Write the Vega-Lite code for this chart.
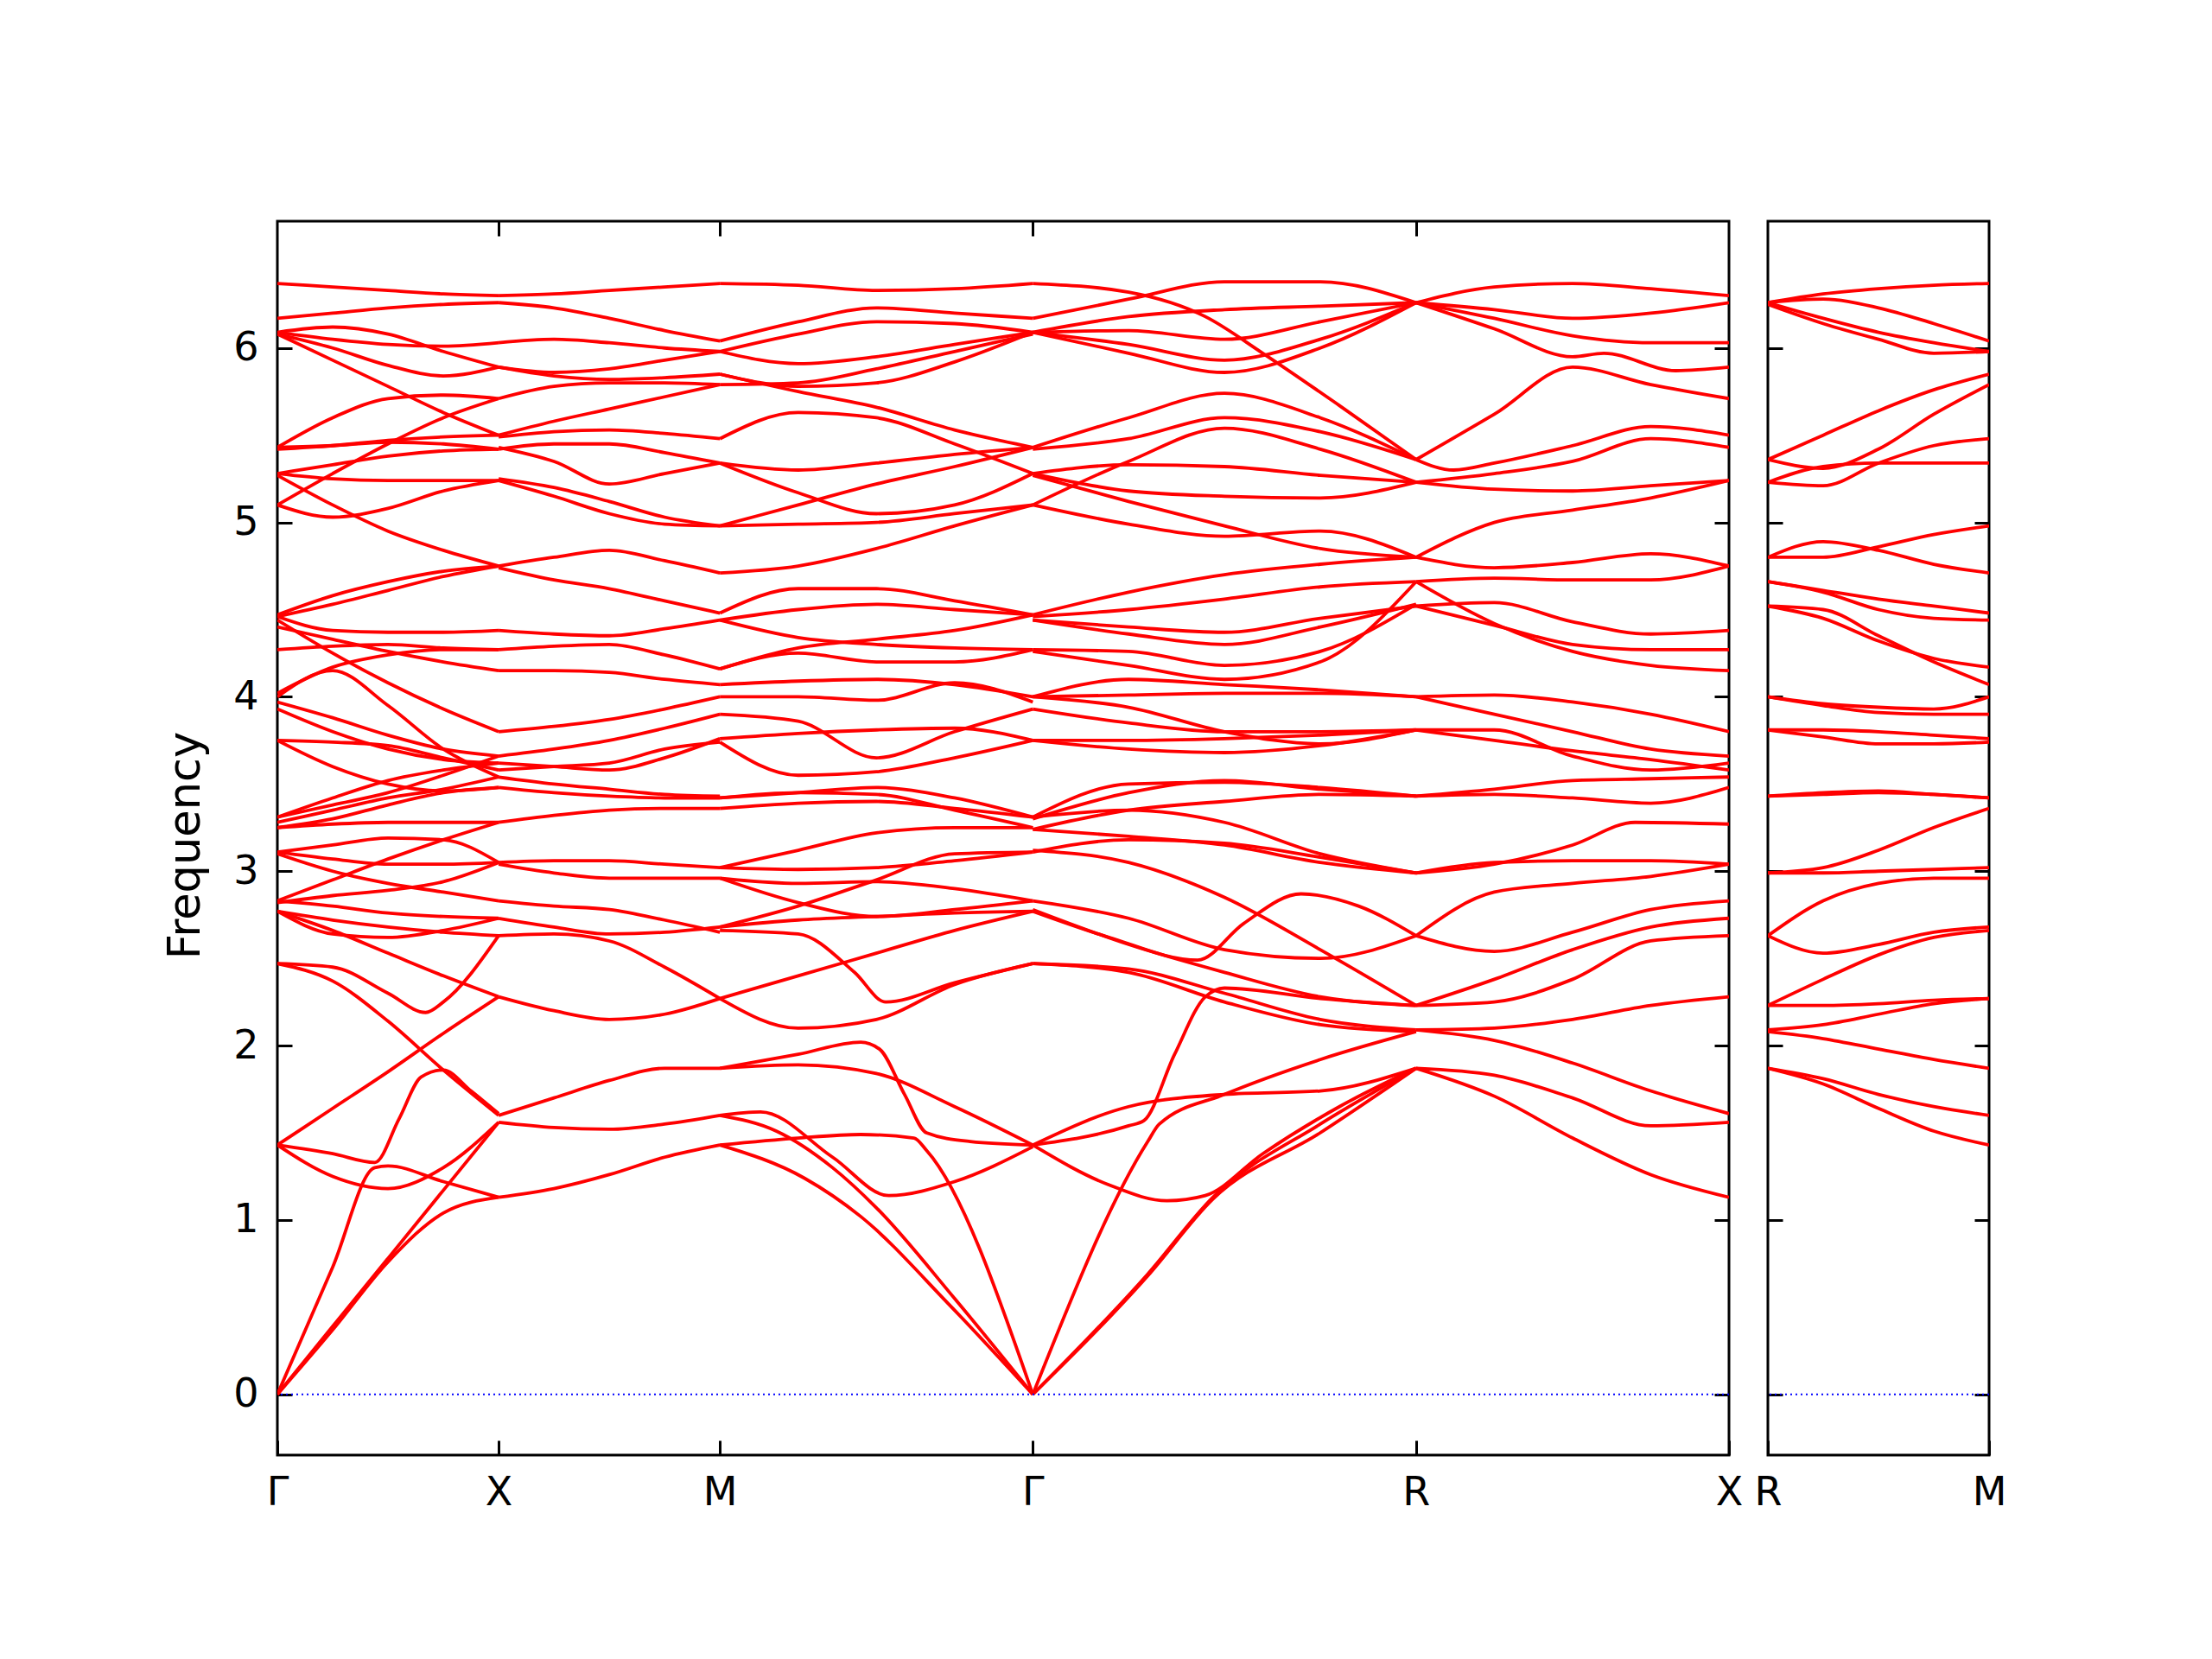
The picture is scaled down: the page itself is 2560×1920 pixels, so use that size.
{
"$schema": "https://vega.github.io/schema/vega-lite/v6.json",
"background": "white",
"padding": {"left": 187, "top": 253, "right": 20, "bottom": 20},
"bounds": "flush",
"spacing": 45,
"config": {"font": "DejaVu Sans", "view": {"stroke": "black", "strokeWidth": 3}},
"datasets": {
"L": [
{"c":"a1","x":0,"f":6.37},{"c":"a1","x":0.125,"f":6.35},{"c":"a1","x":0.25,"f":6.33},{"c":"a1","x":0.375,"f":6.31},{"c":"a1","x":0.5,"f":6.30},
{"c":"a2","x":0,"f":6.17},{"c":"a2","x":0.125,"f":6.20},{"c":"a2","x":0.25,"f":6.23},{"c":"a2","x":0.375,"f":6.25},{"c":"a2","x":0.5,"f":6.26},
{"c":"a3","x":0,"f":6.09},{"c":"a3","x":0.125,"f":6.12},{"c":"a3","x":0.25,"f":6.08},{"c":"a3","x":0.375,"f":5.98},{"c":"a3","x":0.5,"f":5.89},
{"c":"a4","x":0,"f":6.09},{"c":"a4","x":0.125,"f":6.05},{"c":"a4","x":0.25,"f":6.02},{"c":"a4","x":0.375,"f":6.01},{"c":"a4","x":0.5,"f":6.03},
{"c":"a5","x":0,"f":6.08},{"c":"a5","x":0.125,"f":6.00},{"c":"a5","x":0.25,"f":5.90},{"c":"a5","x":0.375,"f":5.84},{"c":"a5","x":0.5,"f":5.89},
{"c":"a6","x":0,"f":6.08},{"c":"a6","x":0.125,"f":5.93},{"c":"a6","x":0.25,"f":5.78},{"c":"a6","x":0.375,"f":5.63},{"c":"a6","x":0.5,"f":5.50},
{"c":"a7","x":0,"f":5.43},{"c":"a7","x":0.125,"f":5.60},{"c":"a7","x":0.25,"f":5.71},{"c":"a7","x":0.375,"f":5.73},{"c":"a7","x":0.5,"f":5.71},
{"c":"a8","x":0,"f":5.43},{"c":"a8","x":0.125,"f":5.44},{"c":"a8","x":0.25,"f":5.46},{"c":"a8","x":0.375,"f":5.45},{"c":"a8","x":0.5,"f":5.42},
{"c":"a9","x":0,"f":5.42},{"c":"a9","x":0.125,"f":5.44},{"c":"a9","x":0.25,"f":5.47},{"c":"a9","x":0.375,"f":5.49},{"c":"a9","x":0.5,"f":5.50},
{"c":"a10","x":0,"f":5.10},{"c":"a10","x":0.125,"f":5.28},{"c":"a10","x":0.25,"f":5.45},{"c":"a10","x":0.375,"f":5.60},{"c":"a10","x":0.5,"f":5.71},
{"c":"a11","x":0,"f":5.28},{"c":"a11","x":0.125,"f":5.33},{"c":"a11","x":0.25,"f":5.38},{"c":"a11","x":0.375,"f":5.41},{"c":"a11","x":0.5,"f":5.42},
{"c":"a12","x":0,"f":5.28},{"c":"a12","x":0.125,"f":5.25},{"c":"a12","x":0.25,"f":5.24},{"c":"a12","x":0.375,"f":5.24},{"c":"a12","x":0.5,"f":5.24},
{"c":"a13","x":0,"f":5.27},{"c":"a13","x":0.125,"f":5.10},{"c":"a13","x":0.25,"f":4.95},{"c":"a13","x":0.375,"f":4.84},{"c":"a13","x":0.5,"f":4.75},
{"c":"a14","x":0,"f":5.10},{"c":"a14","x":0.125,"f":5.03},{"c":"a14","x":0.25,"f":5.08},{"c":"a14","x":0.375,"f":5.18},{"c":"a14","x":0.5,"f":5.24},
{"c":"a15","x":0,"f":4.47},{"c":"a15","x":0.125,"f":4.58},{"c":"a15","x":0.25,"f":4.66},{"c":"a15","x":0.375,"f":4.72},{"c":"a15","x":0.5,"f":4.75},
{"c":"a16","x":0,"f":4.46},{"c":"a16","x":0.125,"f":4.53},{"c":"a16","x":0.25,"f":4.61},{"c":"a16","x":0.375,"f":4.69},{"c":"a16","x":0.5,"f":4.75},
{"c":"a17","x":0,"f":4.46},{"c":"a17","x":0.125,"f":4.38},{"c":"a17","x":0.25,"f":4.37},{"c":"a17","x":0.375,"f":4.37},{"c":"a17","x":0.5,"f":4.38},
{"c":"a18","x":0,"f":4.44},{"c":"a18","x":0.125,"f":4.25},{"c":"a18","x":0.25,"f":4.08},{"c":"a18","x":0.375,"f":3.93},{"c":"a18","x":0.5,"f":3.80},
{"c":"a19","x":0,"f":4.40},{"c":"a19","x":0.125,"f":4.33},{"c":"a19","x":0.25,"f":4.26},{"c":"a19","x":0.375,"f":4.20},{"c":"a19","x":0.5,"f":4.15},
{"c":"a20","x":0,"f":4.27},{"c":"a20","x":0.125,"f":4.29},{"c":"a20","x":0.25,"f":4.30},{"c":"a20","x":0.375,"f":4.28},{"c":"a20","x":0.5,"f":4.27},
{"c":"a21","x":0,"f":4.02},{"c":"a21","x":0.125,"f":4.17},{"c":"a21","x":0.25,"f":4.24},{"c":"a21","x":0.375,"f":4.27},{"c":"a21","x":0.5,"f":4.27},
{"c":"a22","x":0,"f":4.00},{"c":"a22","x":0.125,"f":4.15},{"c":"a22","x":0.25,"f":3.95},{"c":"a22","x":0.375,"f":3.70},{"c":"a22","x":0.5,"f":3.54},
{"c":"a23","x":0,"f":3.97},{"c":"a23","x":0.125,"f":3.88},{"c":"a23","x":0.25,"f":3.78},{"c":"a23","x":0.375,"f":3.70},{"c":"a23","x":0.5,"f":3.66},
{"c":"a24","x":0,"f":3.93},{"c":"a24","x":0.125,"f":3.80},{"c":"a24","x":0.25,"f":3.70},{"c":"a24","x":0.375,"f":3.64},{"c":"a24","x":0.5,"f":3.62},
{"c":"a25","x":0,"f":3.75},{"c":"a25","x":0.125,"f":3.74},{"c":"a25","x":0.25,"f":3.72},{"c":"a25","x":0.375,"f":3.65},{"c":"a25","x":0.5,"f":3.58},
{"c":"a26","x":0,"f":3.75},{"c":"a26","x":0.125,"f":3.60},{"c":"a26","x":0.25,"f":3.50},{"c":"a26","x":0.375,"f":3.46},{"c":"a26","x":0.5,"f":3.48},
{"c":"a27","x":0,"f":3.31},{"c":"a27","x":0.125,"f":3.42},{"c":"a27","x":0.25,"f":3.52},{"c":"a27","x":0.375,"f":3.58},{"c":"a27","x":0.5,"f":3.62},
{"c":"a28","x":0,"f":3.31},{"c":"a28","x":0.125,"f":3.38},{"c":"a28","x":0.25,"f":3.45},{"c":"a28","x":0.375,"f":3.55},{"c":"a28","x":0.5,"f":3.66},
{"c":"a29","x":0,"f":3.28},{"c":"a29","x":0.125,"f":3.35},{"c":"a29","x":0.25,"f":3.42},{"c":"a29","x":0.375,"f":3.47},{"c":"a29","x":0.5,"f":3.54},
{"c":"a30","x":0,"f":3.25},{"c":"a30","x":0.125,"f":3.27},{"c":"a30","x":0.25,"f":3.28},{"c":"a30","x":0.375,"f":3.28},{"c":"a30","x":0.5,"f":3.28},
{"c":"a31","x":0,"f":3.25},{"c":"a31","x":0.125,"f":3.30},{"c":"a31","x":0.25,"f":3.38},{"c":"a31","x":0.375,"f":3.45},{"c":"a31","x":0.5,"f":3.48},
{"c":"a32","x":0,"f":3.11},{"c":"a32","x":0.125,"f":3.15},{"c":"a32","x":0.25,"f":3.19},{"c":"a32","x":0.375,"f":3.18},{"c":"a32","x":0.5,"f":3.05},
{"c":"a33","x":0,"f":3.11},{"c":"a33","x":0.125,"f":3.07},{"c":"a33","x":0.25,"f":3.04},{"c":"a33","x":0.375,"f":3.04},{"c":"a33","x":0.5,"f":3.05},
{"c":"a34","x":0,"f":3.10},{"c":"a34","x":0.125,"f":3.00},{"c":"a34","x":0.25,"f":2.93},{"c":"a34","x":0.375,"f":2.88},{"c":"a34","x":0.5,"f":2.83},
{"c":"a35","x":0,"f":2.83},{"c":"a35","x":0.125,"f":2.95},{"c":"a35","x":0.25,"f":3.07},{"c":"a35","x":0.375,"f":3.18},{"c":"a35","x":0.5,"f":3.28},
{"c":"a36","x":0,"f":2.82},{"c":"a36","x":0.125,"f":2.86},{"c":"a36","x":0.25,"f":2.89},{"c":"a36","x":0.375,"f":2.94},{"c":"a36","x":0.5,"f":3.05},
{"c":"a37","x":0,"f":2.77},{"c":"a37","x":0.125,"f":2.64},{"c":"a37","x":0.25,"f":2.62},{"c":"a37","x":0.375,"f":2.66},{"c":"a37","x":0.5,"f":2.73},
{"c":"a38","x":0,"f":2.77},{"c":"a38","x":0.125,"f":2.72},{"c":"a38","x":0.25,"f":2.68},{"c":"a38","x":0.375,"f":2.65},{"c":"a38","x":0.5,"f":2.63},
{"c":"a39","x":0,"f":2.77},{"c":"a39","x":0.125,"f":2.66},{"c":"a39","x":0.25,"f":2.53},{"c":"a39","x":0.375,"f":2.40},{"c":"a39","x":0.5,"f":2.28},
{"c":"a40","x":0,"f":2.83},{"c":"a40","x":0.125,"f":2.80},{"c":"a40","x":0.25,"f":2.76},{"c":"a40","x":0.375,"f":2.74},{"c":"a40","x":0.5,"f":2.73},
{"c":"a41","x":0,"f":2.47},{"c":"a41","x":0.125,"f":2.45},{"c":"a41","x":0.25,"f":2.30},{"c":"a41","x":0.335,"f":2.19},{"c":"a41","x":0.375,"f":2.25},{"c":"a41","x":0.5,"f":2.63},
{"c":"a42","x":0,"f":2.47},{"c":"a42","x":0.125,"f":2.37},{"c":"a42","x":0.25,"f":2.14},{"c":"a42","x":0.375,"f":1.86},{"c":"a42","x":0.5,"f":1.60},
{"c":"a43","x":0,"f":1.43},{"c":"a43","x":0.125,"f":1.64},{"c":"a43","x":0.25,"f":1.85},{"c":"a43","x":0.375,"f":2.07},{"c":"a43","x":0.5,"f":2.28},
{"c":"a44","x":0,"f":1.43},{"c":"a44","x":0.125,"f":1.38},{"c":"a44","x":0.22,"f":1.33},{"c":"a44","x":0.275,"f":1.58},{"c":"a44","x":0.325,"f":1.82},{"c":"a44","x":0.375,"f":1.86},{"c":"a44","x":0.4375,"f":1.74},{"c":"a44","x":0.5,"f":1.61},
{"c":"a45","x":0,"f":1.43},{"c":"a45","x":0.125,"f":1.25},{"c":"a45","x":0.25,"f":1.18},{"c":"a45","x":0.375,"f":1.30},{"c":"a45","x":0.5,"f":1.56},
{"c":"a46","x":0,"f":0},{"c":"a46","x":0.125,"f":0.73},{"c":"a46","x":0.22,"f":1.30},{"c":"a46","x":0.25,"f":1.31},{"c":"a46","x":0.375,"f":1.22},{"c":"a46","x":0.5,"f":1.13},
{"c":"a47","x":0,"f":0},{"c":"a47","x":0.125,"f":0.39},{"c":"a47","x":0.25,"f":0.78},{"c":"a47","x":0.375,"f":1.17},{"c":"a47","x":0.5,"f":1.56},
{"c":"a48","x":0,"f":0},{"c":"a48","x":0.125,"f":0.37},{"c":"a48","x":0.25,"f":0.76},{"c":"a48","x":0.375,"f":1.04},{"c":"a48","x":0.5,"f":1.13},
{"c":"b1","x":0.5,"f":6.30},{"c":"b1","x":0.625,"f":6.31},{"c":"b1","x":0.75,"f":6.33},{"c":"b1","x":0.875,"f":6.35},{"c":"b1","x":1,"f":6.37},
{"c":"b2","x":0.5,"f":6.26},{"c":"b2","x":0.625,"f":6.23},{"c":"b2","x":0.75,"f":6.17},{"c":"b2","x":0.875,"f":6.10},{"c":"b2","x":1,"f":6.04},
{"c":"b3","x":0.5,"f":6.03},{"c":"b3","x":0.625,"f":6.05},{"c":"b3","x":0.75,"f":6.03},{"c":"b3","x":0.875,"f":6.00},{"c":"b3","x":1,"f":5.98},
{"c":"b4","x":0.5,"f":5.89},{"c":"b4","x":0.625,"f":5.86},{"c":"b4","x":0.75,"f":5.88},{"c":"b4","x":0.875,"f":5.93},{"c":"b4","x":1,"f":5.98},
{"c":"b5","x":0.5,"f":5.89},{"c":"b5","x":0.625,"f":5.84},{"c":"b5","x":0.75,"f":5.82},{"c":"b5","x":0.875,"f":5.83},{"c":"b5","x":1,"f":5.85},
{"c":"b6","x":0.5,"f":5.71},{"c":"b6","x":0.625,"f":5.78},{"c":"b6","x":0.75,"f":5.80},{"c":"b6","x":0.875,"f":5.80},{"c":"b6","x":1,"f":5.79},
{"c":"b7","x":0.5,"f":5.50},{"c":"b7","x":0.625,"f":5.58},{"c":"b7","x":0.75,"f":5.65},{"c":"b7","x":0.875,"f":5.72},{"c":"b7","x":1,"f":5.79},
{"c":"b8","x":0.5,"f":5.49},{"c":"b8","x":0.625,"f":5.52},{"c":"b8","x":0.75,"f":5.53},{"c":"b8","x":0.875,"f":5.51},{"c":"b8","x":1,"f":5.48},
{"c":"b9","x":0.5,"f":5.43},{"c":"b9","x":0.625,"f":5.35},{"c":"b9","x":0.75,"f":5.22},{"c":"b9","x":0.875,"f":5.28},{"c":"b9","x":1,"f":5.34},
{"c":"b10","x":0.5,"f":5.42},{"c":"b10","x":0.625,"f":5.45},{"c":"b10","x":0.75,"f":5.45},{"c":"b10","x":0.875,"f":5.40},{"c":"b10","x":1,"f":5.34},
{"c":"b11","x":0.5,"f":5.25},{"c":"b11","x":0.625,"f":5.20},{"c":"b11","x":0.75,"f":5.12},{"c":"b11","x":0.875,"f":5.03},{"c":"b11","x":1,"f":4.98},
{"c":"b12","x":0.5,"f":5.24},{"c":"b12","x":0.625,"f":5.15},{"c":"b12","x":0.75,"f":5.05},{"c":"b12","x":0.875,"f":4.99},{"c":"b12","x":1,"f":4.98},
{"c":"b13","x":0.5,"f":4.75},{"c":"b13","x":0.625,"f":4.80},{"c":"b13","x":0.75,"f":4.84},{"c":"b13","x":0.875,"f":4.78},{"c":"b13","x":1,"f":4.71},
{"c":"b14","x":0.5,"f":4.74},{"c":"b14","x":0.625,"f":4.67},{"c":"b14","x":0.75,"f":4.62},{"c":"b14","x":0.875,"f":4.55},{"c":"b14","x":1,"f":4.48},
{"c":"b15","x":0.5,"f":4.38},{"c":"b15","x":0.625,"f":4.36},{"c":"b15","x":0.75,"f":4.35},{"c":"b15","x":0.875,"f":4.39},{"c":"b15","x":1,"f":4.44},
{"c":"b16","x":0.5,"f":4.27},{"c":"b16","x":0.625,"f":4.29},{"c":"b16","x":0.75,"f":4.30},{"c":"b16","x":0.875,"f":4.24},{"c":"b16","x":1,"f":4.16},
{"c":"b17","x":0.5,"f":4.15},{"c":"b17","x":0.625,"f":4.15},{"c":"b17","x":0.75,"f":4.14},{"c":"b17","x":0.875,"f":4.10},{"c":"b17","x":1,"f":4.07},
{"c":"b18","x":0.5,"f":3.80},{"c":"b18","x":0.625,"f":3.83},{"c":"b18","x":0.75,"f":3.87},{"c":"b18","x":0.875,"f":3.93},{"c":"b18","x":1,"f":4.00},
{"c":"b19","x":0.5,"f":3.66},{"c":"b19","x":0.625,"f":3.70},{"c":"b19","x":0.75,"f":3.75},{"c":"b19","x":0.875,"f":3.82},{"c":"b19","x":1,"f":3.90},
{"c":"b20","x":0.5,"f":3.62},{"c":"b20","x":0.625,"f":3.60},{"c":"b20","x":0.75,"f":3.58},{"c":"b20","x":0.875,"f":3.65},{"c":"b20","x":1,"f":3.76},
{"c":"b21","x":0.5,"f":3.58},{"c":"b21","x":0.625,"f":3.60},{"c":"b21","x":0.75,"f":3.62},{"c":"b21","x":0.875,"f":3.70},{"c":"b21","x":1,"f":3.74},
{"c":"b22","x":0.5,"f":3.54},{"c":"b22","x":0.625,"f":3.50},{"c":"b22","x":0.75,"f":3.47},{"c":"b22","x":0.875,"f":3.44},{"c":"b22","x":1,"f":3.43},
{"c":"b23","x":0.5,"f":3.48},{"c":"b23","x":0.625,"f":3.45},{"c":"b23","x":0.75,"f":3.43},{"c":"b23","x":0.875,"f":3.42},{"c":"b23","x":1,"f":3.42},
{"c":"b24","x":0.5,"f":3.28},{"c":"b24","x":0.625,"f":3.32},{"c":"b24","x":0.75,"f":3.35},{"c":"b24","x":0.875,"f":3.36},{"c":"b24","x":1,"f":3.36},
{"c":"b25","x":0.5,"f":3.05},{"c":"b25","x":0.625,"f":3.06},{"c":"b25","x":0.75,"f":3.06},{"c":"b25","x":0.875,"f":3.04},{"c":"b25","x":1,"f":3.02},
{"c":"b26","x":0.5,"f":3.04},{"c":"b26","x":0.625,"f":2.99},{"c":"b26","x":0.75,"f":2.96},{"c":"b26","x":0.875,"f":2.96},{"c":"b26","x":1,"f":2.96},
{"c":"b27","x":0.5,"f":2.83},{"c":"b27","x":0.625,"f":2.80},{"c":"b27","x":0.75,"f":2.78},{"c":"b27","x":0.875,"f":2.72},{"c":"b27","x":1,"f":2.65},
{"c":"b28","x":0.5,"f":2.73},{"c":"b28","x":0.625,"f":2.68},{"c":"b28","x":0.75,"f":2.64},{"c":"b28","x":0.875,"f":2.65},{"c":"b28","x":1,"f":2.68},
{"c":"b29","x":0.5,"f":2.63},{"c":"b29","x":0.625,"f":2.64},{"c":"b29","x":0.75,"f":2.60},{"c":"b29","x":0.875,"f":2.45},{"c":"b29","x":1,"f":2.27},
{"c":"b30","x":0.5,"f":2.28},{"c":"b30","x":0.625,"f":2.20},{"c":"b30","x":0.75,"f":2.15},{"c":"b30","x":0.875,"f":2.18},{"c":"b30","x":1,"f":2.27},
{"c":"b31","x":0.5,"f":1.60},{"c":"b31","x":0.625,"f":1.70},{"c":"b31","x":0.75,"f":1.80},{"c":"b31","x":0.875,"f":1.87},{"c":"b31","x":1,"f":1.87},
{"c":"b32","x":0.5,"f":1.56},{"c":"b32","x":0.625,"f":1.53},{"c":"b32","x":0.75,"f":1.52},{"c":"b32","x":0.875,"f":1.55},{"c":"b32","x":1,"f":1.60},
{"c":"b33","x":0.5,"f":1.13},{"c":"b33","x":0.625,"f":1.18},{"c":"b33","x":0.75,"f":1.26},{"c":"b33","x":0.875,"f":1.36},{"c":"b33","x":1,"f":1.43},
{"c":"c1","x":1,"f":6.37},{"c":"c1","x":1.1768,"f":6.36},{"c":"c1","x":1.3536,"f":6.33},{"c":"c1","x":1.5303,"f":6.34},{"c":"c1","x":1.7071,"f":6.37},
{"c":"c2","x":1,"f":6.04},{"c":"c2","x":1.1768,"f":6.15},{"c":"c2","x":1.3536,"f":6.23},{"c":"c2","x":1.5303,"f":6.20},{"c":"c2","x":1.7071,"f":6.17},
{"c":"c3","x":1,"f":5.98},{"c":"c3","x":1.1768,"f":6.08},{"c":"c3","x":1.3536,"f":6.15},{"c":"c3","x":1.5303,"f":6.14},{"c":"c3","x":1.7071,"f":6.09},
{"c":"c4","x":1,"f":5.98},{"c":"c4","x":1.1768,"f":5.91},{"c":"c4","x":1.3536,"f":5.95},{"c":"c4","x":1.5303,"f":6.02},{"c":"c4","x":1.7071,"f":6.09},
{"c":"c5","x":1,"f":5.85},{"c":"c5","x":1.1768,"f":5.78},{"c":"c5","x":1.3536,"f":5.80},{"c":"c5","x":1.5303,"f":5.92},{"c":"c5","x":1.7071,"f":6.09},
{"c":"c6","x":1,"f":5.79},{"c":"c6","x":1.1768,"f":5.80},{"c":"c6","x":1.3536,"f":5.88},{"c":"c6","x":1.5303,"f":5.98},{"c":"c6","x":1.7071,"f":6.08},
{"c":"c7","x":1,"f":5.85},{"c":"c7","x":1.1768,"f":5.75},{"c":"c7","x":1.3536,"f":5.66},{"c":"c7","x":1.5303,"f":5.53},{"c":"c7","x":1.7071,"f":5.43},
{"c":"c8","x":1,"f":5.48},{"c":"c8","x":1.1768,"f":5.63},{"c":"c8","x":1.3536,"f":5.60},{"c":"c8","x":1.5303,"f":5.45},{"c":"c8","x":1.7071,"f":5.28},
{"c":"c9","x":1,"f":5.34},{"c":"c9","x":1.1768,"f":5.30},{"c":"c9","x":1.3536,"f":5.34},{"c":"c9","x":1.5303,"f":5.39},{"c":"c9","x":1.7071,"f":5.43},
{"c":"c10","x":1,"f":5.34},{"c":"c10","x":1.1768,"f":5.17},{"c":"c10","x":1.3536,"f":5.05},{"c":"c10","x":1.5303,"f":5.10},{"c":"c10","x":1.7071,"f":5.28},
{"c":"c11","x":1,"f":4.98},{"c":"c11","x":1.1768,"f":4.99},{"c":"c11","x":1.3536,"f":5.00},{"c":"c11","x":1.5303,"f":5.05},{"c":"c11","x":1.7071,"f":5.10},
{"c":"c12","x":1,"f":4.98},{"c":"c12","x":1.1768,"f":5.10},{"c":"c12","x":1.3536,"f":5.22},{"c":"c12","x":1.5303,"f":5.32},{"c":"c12","x":1.7071,"f":5.43},
{"c":"c13","x":1,"f":4.71},{"c":"c13","x":1.1768,"f":4.75},{"c":"c13","x":1.3536,"f":4.85},{"c":"c13","x":1.5303,"f":4.98},{"c":"c13","x":1.7071,"f":5.10},
{"c":"c14","x":1,"f":4.48},{"c":"c14","x":1.1768,"f":4.62},{"c":"c14","x":1.3536,"f":4.62},{"c":"c14","x":1.5303,"f":4.55},{"c":"c14","x":1.7071,"f":4.47},
{"c":"c15","x":1,"f":4.44},{"c":"c15","x":1.1768,"f":4.50},{"c":"c15","x":1.3536,"f":4.53},{"c":"c15","x":1.5303,"f":4.50},{"c":"c15","x":1.7071,"f":4.47},
{"c":"c16","x":1,"f":4.44},{"c":"c16","x":1.1768,"f":4.34},{"c":"c16","x":1.3536,"f":4.30},{"c":"c16","x":1.5303,"f":4.28},{"c":"c16","x":1.7071,"f":4.27},
{"c":"c17","x":1,"f":4.16},{"c":"c17","x":1.1768,"f":4.28},{"c":"c17","x":1.3536,"f":4.33},{"c":"c17","x":1.5303,"f":4.38},{"c":"c17","x":1.7071,"f":4.47},
{"c":"c18","x":1,"f":4.16},{"c":"c18","x":1.1768,"f":4.25},{"c":"c18","x":1.3536,"f":4.20},{"c":"c18","x":1.5303,"f":4.20},{"c":"c18","x":1.7071,"f":4.27},
{"c":"c19","x":1,"f":4.07},{"c":"c19","x":1.1768,"f":4.09},{"c":"c19","x":1.3536,"f":4.10},{"c":"c19","x":1.5303,"f":4.07},{"c":"c19","x":1.7071,"f":4.00},
{"c":"c20","x":1,"f":4.00},{"c":"c20","x":1.1768,"f":4.00},{"c":"c20","x":1.3536,"f":3.98},{"c":"c20","x":1.5303,"f":4.08},{"c":"c20","x":1.7071,"f":3.97},
{"c":"c21","x":1,"f":3.90},{"c":"c21","x":1.1768,"f":3.86},{"c":"c21","x":1.3536,"f":3.65},{"c":"c21","x":1.5303,"f":3.80},{"c":"c21","x":1.7071,"f":3.93},
{"c":"c22","x":1,"f":3.76},{"c":"c22","x":1.1768,"f":3.79},{"c":"c22","x":1.3536,"f":3.81},{"c":"c22","x":1.5303,"f":3.82},{"c":"c22","x":1.7071,"f":3.75},
{"c":"c23","x":1,"f":3.74},{"c":"c23","x":1.1768,"f":3.55},{"c":"c23","x":1.3536,"f":3.57},{"c":"c23","x":1.5303,"f":3.65},{"c":"c23","x":1.7071,"f":3.75},
{"c":"c24","x":1,"f":3.42},{"c":"c24","x":1.1768,"f":3.45},{"c":"c24","x":1.3536,"f":3.48},{"c":"c24","x":1.5303,"f":3.42},{"c":"c24","x":1.7071,"f":3.31},
{"c":"c25","x":1,"f":3.42},{"c":"c25","x":1.1768,"f":3.45},{"c":"c25","x":1.3536,"f":3.44},{"c":"c25","x":1.5303,"f":3.35},{"c":"c25","x":1.7071,"f":3.25},
{"c":"c26","x":1,"f":3.36},{"c":"c26","x":1.1768,"f":3.39},{"c":"c26","x":1.3536,"f":3.40},{"c":"c26","x":1.5303,"f":3.36},{"c":"c26","x":1.7071,"f":3.31},
{"c":"c27","x":1,"f":3.02},{"c":"c27","x":1.1768,"f":3.12},{"c":"c27","x":1.3536,"f":3.22},{"c":"c27","x":1.5303,"f":3.25},{"c":"c27","x":1.7071,"f":3.25},
{"c":"c28","x":1,"f":3.02},{"c":"c28","x":1.1768,"f":3.01},{"c":"c28","x":1.3536,"f":3.02},{"c":"c28","x":1.5303,"f":3.06},{"c":"c28","x":1.7071,"f":3.11},
{"c":"c29","x":1,"f":2.96},{"c":"c29","x":1.1768,"f":2.93},{"c":"c29","x":1.3536,"f":2.94},{"c":"c29","x":1.5303,"f":2.90},{"c":"c29","x":1.7071,"f":2.83},
{"c":"c30","x":1,"f":2.96},{"c":"c30","x":1.1768,"f":2.82},{"c":"c30","x":1.3536,"f":2.74},{"c":"c30","x":1.5303,"f":2.78},{"c":"c30","x":1.7071,"f":2.83},
{"c":"c31","x":1,"f":2.68},{"c":"c31","x":1.1768,"f":2.80},{"c":"c31","x":1.3536,"f":2.95},{"c":"c31","x":1.5303,"f":3.10},{"c":"c31","x":1.7071,"f":3.11},
{"c":"c32","x":1,"f":2.68},{"c":"c32","x":1.1768,"f":2.72},{"c":"c32","x":1.3536,"f":2.74},{"c":"c32","x":1.5303,"f":2.76},{"c":"c32","x":1.7071,"f":2.77},
{"c":"c33","x":1,"f":2.66},{"c":"c33","x":1.1768,"f":2.64},{"c":"c33","x":1.3041,"f":2.42},{"c":"c33","x":1.3748,"f":2.25},{"c":"c33","x":1.5303,"f":2.36},{"c":"c33","x":1.7071,"f":2.47},
{"c":"c34","x":1,"f":2.27},{"c":"c34","x":1.1768,"f":2.40},{"c":"c34","x":1.3536,"f":2.53},{"c":"c34","x":1.5303,"f":2.66},{"c":"c34","x":1.7071,"f":2.77},
{"c":"c35","x":1,"f":2.27},{"c":"c35","x":1.1768,"f":2.10},{"c":"c35","x":1.3536,"f":2.15},{"c":"c35","x":1.5303,"f":2.35},{"c":"c35","x":1.7071,"f":2.47},
{"c":"c36","x":1,"f":1.87},{"c":"c36","x":1.1768,"f":1.89},{"c":"c36","x":1.3536,"f":1.84},{"c":"c36","x":1.5303,"f":1.65},{"c":"c36","x":1.7071,"f":1.43},
{"c":"c37","x":1,"f":1.87},{"c":"c37","x":1.1768,"f":1.95},{"c":"c37","x":1.3182,"f":2.02},{"c":"c37","x":1.3606,"f":1.98},{"c":"c37","x":1.4172,"f":1.72},{"c":"c37","x":1.4667,"f":1.50},{"c":"c37","x":1.5657,"f":1.45},{"c":"c37","x":1.7071,"f":1.43},
{"c":"c38","x":1,"f":1.60},{"c":"c38","x":1.0919,"f":1.62},{"c":"c38","x":1.2546,"f":1.36},{"c":"c38","x":1.3818,"f":1.14},{"c":"c38","x":1.5303,"f":1.22},{"c":"c38","x":1.7071,"f":1.42},
{"c":"c39","x":1,"f":1.43},{"c":"c39","x":1.1768,"f":1.47},{"c":"c39","x":1.3182,"f":1.49},{"c":"c39","x":1.4384,"f":1.47},{"c":"c39","x":1.4667,"f":1.40},{"c":"c39","x":1.7071,"f":0},
{"c":"c40","x":1,"f":1.60},{"c":"c40","x":1.1273,"f":1.51},{"c":"c40","x":1.2546,"f":1.30},{"c":"c40","x":1.3536,"f":1.07},{"c":"c40","x":1.5303,"f":0.55},{"c":"c40","x":1.7071,"f":0},
{"c":"c41","x":1,"f":1.43},{"c":"c41","x":1.1909,"f":1.24},{"c":"c41","x":1.3182,"f":1.02},{"c":"c41","x":1.5162,"f":0.52},{"c":"c41","x":1.7071,"f":0},
{"c":"d1","x":1.7071,"f":6.17},{"c":"d1","x":1.9236,"f":6.28},{"c":"d1","x":2.1401,"f":6.38},{"c":"d1","x":2.3566,"f":6.38},{"c":"d1","x":2.5731,"f":6.26},
{"c":"d2","x":1.7071,"f":6.37},{"c":"d2","x":1.9236,"f":6.32},{"c":"d2","x":2.0968,"f":6.18},{"c":"d2","x":2.2267,"f":5.97},{"c":"d2","x":2.3999,"f":5.67},{"c":"d2","x":2.5731,"f":5.36},
{"c":"d3","x":1.7071,"f":6.09},{"c":"d3","x":1.9236,"f":6.18},{"c":"d3","x":2.1401,"f":6.22},{"c":"d3","x":2.3566,"f":6.24},{"c":"d3","x":2.5731,"f":6.26},
{"c":"d4","x":1.7071,"f":6.09},{"c":"d4","x":1.9236,"f":6.10},{"c":"d4","x":2.1401,"f":6.05},{"c":"d4","x":2.3566,"f":6.15},{"c":"d4","x":2.5731,"f":6.26},
{"c":"d5","x":1.7071,"f":6.09},{"c":"d5","x":1.9236,"f":5.97},{"c":"d5","x":2.1401,"f":5.86},{"c":"d5","x":2.3566,"f":6.00},{"c":"d5","x":2.5731,"f":6.26},
{"c":"d6","x":1.7071,"f":6.09},{"c":"d6","x":1.9236,"f":6.02},{"c":"d6","x":2.1401,"f":5.93},{"c":"d6","x":2.3566,"f":6.05},{"c":"d6","x":2.5731,"f":6.26},
{"c":"d7","x":1.7071,"f":5.43},{"c":"d7","x":1.9236,"f":5.60},{"c":"d7","x":2.1401,"f":5.74},{"c":"d7","x":2.3566,"f":5.60},{"c":"d7","x":2.5731,"f":5.36},
{"c":"d8","x":1.7071,"f":5.42},{"c":"d8","x":1.9236,"f":5.48},{"c":"d8","x":2.1401,"f":5.60},{"c":"d8","x":2.3566,"f":5.52},{"c":"d8","x":2.5731,"f":5.36},
{"c":"d9","x":1.7071,"f":5.10},{"c":"d9","x":1.9236,"f":5.35},{"c":"d9","x":2.1401,"f":5.54},{"c":"d9","x":2.3566,"f":5.42},{"c":"d9","x":2.5731,"f":5.23},
{"c":"d10","x":1.7071,"f":5.28},{"c":"d10","x":1.9236,"f":5.33},{"c":"d10","x":2.1401,"f":5.32},{"c":"d10","x":2.3566,"f":5.27},{"c":"d10","x":2.5731,"f":5.23},
{"c":"d11","x":1.7071,"f":5.28},{"c":"d11","x":1.9236,"f":5.18},{"c":"d11","x":2.1401,"f":5.15},{"c":"d11","x":2.3566,"f":5.14},{"c":"d11","x":2.5731,"f":5.23},
{"c":"d12","x":1.7071,"f":5.10},{"c":"d12","x":1.9236,"f":4.99},{"c":"d12","x":2.1401,"f":4.92},{"c":"d12","x":2.3566,"f":4.95},{"c":"d12","x":2.5731,"f":4.80},
{"c":"d13","x":1.7071,"f":5.27},{"c":"d13","x":1.9236,"f":5.12},{"c":"d13","x":2.1401,"f":4.98},{"c":"d13","x":2.3566,"f":4.85},{"c":"d13","x":2.5731,"f":4.80},
{"c":"d14","x":1.7071,"f":4.47},{"c":"d14","x":1.9236,"f":4.60},{"c":"d14","x":2.1401,"f":4.70},{"c":"d14","x":2.3566,"f":4.76},{"c":"d14","x":2.5731,"f":4.80},
{"c":"d15","x":1.7071,"f":4.46},{"c":"d15","x":1.9236,"f":4.50},{"c":"d15","x":2.1401,"f":4.56},{"c":"d15","x":2.3566,"f":4.63},{"c":"d15","x":2.5731,"f":4.66},
{"c":"d16","x":1.7071,"f":4.44},{"c":"d16","x":1.9236,"f":4.36},{"c":"d16","x":2.1401,"f":4.30},{"c":"d16","x":2.3566,"f":4.40},{"c":"d16","x":2.5731,"f":4.53},
{"c":"d17","x":1.7071,"f":4.44},{"c":"d17","x":1.9236,"f":4.40},{"c":"d17","x":2.1401,"f":4.37},{"c":"d17","x":2.3566,"f":4.45},{"c":"d17","x":2.5731,"f":4.52},
{"c":"d18","x":1.7071,"f":4.27},{"c":"d18","x":1.9236,"f":4.26},{"c":"d18","x":2.1401,"f":4.18},{"c":"d18","x":2.3566,"f":4.26},{"c":"d18","x":2.5731,"f":4.53},
{"c":"d19","x":1.7071,"f":4.26},{"c":"d19","x":1.9236,"f":4.18},{"c":"d19","x":2.1401,"f":4.10},{"c":"d19","x":2.3566,"f":4.20},{"c":"d19","x":2.5731,"f":4.66},
{"c":"d20","x":1.7071,"f":4.00},{"c":"d20","x":1.9236,"f":4.10},{"c":"d20","x":2.1401,"f":4.07},{"c":"d20","x":2.3566,"f":4.04},{"c":"d20","x":2.5731,"f":4.00},
{"c":"d21","x":1.7071,"f":4.00},{"c":"d21","x":1.9236,"f":4.01},{"c":"d21","x":2.1401,"f":4.02},{"c":"d21","x":2.3566,"f":4.02},{"c":"d21","x":2.5731,"f":4.00},
{"c":"d22","x":1.7071,"f":4.00},{"c":"d22","x":1.9236,"f":3.94},{"c":"d22","x":2.1401,"f":3.80},{"c":"d22","x":2.3566,"f":3.73},{"c":"d22","x":2.5731,"f":3.81},
{"c":"d23","x":1.7071,"f":3.93},{"c":"d23","x":1.9236,"f":3.85},{"c":"d23","x":2.1401,"f":3.80},{"c":"d23","x":2.3566,"f":3.80},{"c":"d23","x":2.5731,"f":3.81},
{"c":"d24","x":1.7071,"f":3.75},{"c":"d24","x":1.9236,"f":3.70},{"c":"d24","x":2.1401,"f":3.68},{"c":"d24","x":2.3566,"f":3.72},{"c":"d24","x":2.5731,"f":3.81},
{"c":"d25","x":1.7071,"f":3.75},{"c":"d25","x":1.9236,"f":3.75},{"c":"d25","x":2.1401,"f":3.76},{"c":"d25","x":2.3566,"f":3.78},{"c":"d25","x":2.5731,"f":3.81},
{"c":"d26","x":1.7071,"f":3.31},{"c":"d26","x":1.9236,"f":3.50},{"c":"d26","x":2.1401,"f":3.51},{"c":"d26","x":2.3566,"f":3.48},{"c":"d26","x":2.5731,"f":3.43},
{"c":"d27","x":1.7071,"f":3.30},{"c":"d27","x":1.9236,"f":3.45},{"c":"d27","x":2.1401,"f":3.52},{"c":"d27","x":2.3566,"f":3.47},{"c":"d27","x":2.5731,"f":3.43},
{"c":"d28","x":1.7071,"f":3.24},{"c":"d28","x":1.9236,"f":3.35},{"c":"d28","x":2.1401,"f":3.40},{"c":"d28","x":2.3566,"f":3.44},{"c":"d28","x":2.5731,"f":3.43},
{"c":"d29","x":1.7071,"f":3.31},{"c":"d29","x":1.9236,"f":3.35},{"c":"d29","x":2.1401,"f":3.28},{"c":"d29","x":2.3566,"f":3.10},{"c":"d29","x":2.5731,"f":2.99},
{"c":"d30","x":1.7071,"f":3.24},{"c":"d30","x":1.9236,"f":3.20},{"c":"d30","x":2.1401,"f":3.15},{"c":"d30","x":2.3566,"f":3.05},{"c":"d30","x":2.5731,"f":2.99},
{"c":"d31","x":1.7071,"f":3.11},{"c":"d31","x":1.9236,"f":3.18},{"c":"d31","x":2.1401,"f":3.16},{"c":"d31","x":2.3566,"f":3.08},{"c":"d31","x":2.5731,"f":2.99},
{"c":"d32","x":1.7071,"f":3.12},{"c":"d32","x":1.9236,"f":3.05},{"c":"d32","x":2.1401,"f":2.85},{"c":"d32","x":2.3566,"f":2.55},{"c":"d32","x":2.5731,"f":2.23},
{"c":"d33","x":1.7071,"f":2.83},{"c":"d33","x":1.9236,"f":2.73},{"c":"d33","x":2.1401,"f":2.55},{"c":"d33","x":2.3566,"f":2.50},{"c":"d33","x":2.5731,"f":2.63},
{"c":"d34","x":1.7071,"f":2.78},{"c":"d34","x":1.9236,"f":2.58},{"c":"d34","x":2.1401,"f":2.42},{"c":"d34","x":2.3566,"f":2.28},{"c":"d34","x":2.5731,"f":2.23},
{"c":"d35","x":1.7071,"f":2.77},{"c":"d35","x":1.8803,"f":2.62},{"c":"d35","x":2.0795,"f":2.49},{"c":"d35","x":2.1834,"f":2.70},{"c":"d35","x":2.3133,"f":2.87},{"c":"d35","x":2.4432,"f":2.80},{"c":"d35","x":2.5731,"f":2.63},
{"c":"d36","x":1.7071,"f":2.47},{"c":"d36","x":1.9236,"f":2.42},{"c":"d36","x":2.1401,"f":2.25},{"c":"d36","x":2.3566,"f":2.12},{"c":"d36","x":2.5731,"f":2.08},
{"c":"d37","x":1.7071,"f":2.47},{"c":"d37","x":1.9236,"f":2.44},{"c":"d37","x":2.1401,"f":2.30},{"c":"d37","x":2.3566,"f":2.15},{"c":"d37","x":2.5731,"f":2.09},
{"c":"d38","x":1.7071,"f":0},{"c":"d38","x":1.9669,"f":1.45},{"c":"d38","x":1.9929,"f":1.55},{"c":"d38","x":2.1401,"f":1.72},{"c":"d38","x":2.3566,"f":1.92},{"c":"d38","x":2.5731,"f":2.08},
{"c":"d39","x":1.7071,"f":1.43},{"c":"d39","x":1.9236,"f":1.54},{"c":"d39","x":1.9582,"f":1.57},{"c":"d39","x":2.0275,"f":1.95},{"c":"d39","x":2.0968,"f":2.28},{"c":"d39","x":2.1401,"f":2.33},{"c":"d39","x":2.3566,"f":2.27},{"c":"d39","x":2.5731,"f":2.23},
{"c":"d40","x":1.7071,"f":1.43},{"c":"d40","x":1.9236,"f":1.65},{"c":"d40","x":2.1401,"f":1.72},{"c":"d40","x":2.3566,"f":1.74},{"c":"d40","x":2.5731,"f":1.87},
{"c":"d41","x":1.7071,"f":1.43},{"c":"d41","x":1.8803,"f":1.20},{"c":"d41","x":2.0102,"f":1.11},{"c":"d41","x":2.0968,"f":1.14},{"c":"d41","x":2.2267,"f":1.38},{"c":"d41","x":2.3999,"f":1.65},{"c":"d41","x":2.5731,"f":1.87},
{"c":"d42","x":1.7071,"f":0},{"c":"d42","x":1.9669,"f":0.69},{"c":"d42","x":2.1141,"f":1.13},{"c":"d42","x":2.3566,"f":1.55},{"c":"d42","x":2.5731,"f":1.87},
{"c":"d43","x":1.7071,"f":0},{"c":"d43","x":1.9669,"f":0.68},{"c":"d43","x":2.1141,"f":1.12},{"c":"d43","x":2.3566,"f":1.50},{"c":"d43","x":2.5731,"f":1.87},
{"c":"e1","x":2.5731,"f":6.26},{"c":"e1","x":2.7499,"f":6.35},{"c":"e1","x":2.9267,"f":6.37},{"c":"e1","x":3.1034,"f":6.34},{"c":"e1","x":3.2802,"f":6.30},
{"c":"e2","x":2.5731,"f":6.26},{"c":"e2","x":2.7499,"f":6.22},{"c":"e2","x":2.9267,"f":6.17},{"c":"e2","x":3.1034,"f":6.20},{"c":"e2","x":3.2802,"f":6.26},
{"c":"e3","x":2.5731,"f":6.26},{"c":"e3","x":2.7499,"f":6.17},{"c":"e3","x":2.9267,"f":6.07},{"c":"e3","x":3.1034,"f":6.03},{"c":"e3","x":3.2802,"f":6.03},
{"c":"e4","x":2.5731,"f":6.26},{"c":"e4","x":2.7499,"f":6.11},{"c":"e4","x":2.9267,"f":5.95},{"c":"e4","x":2.9974,"f":5.97},{"c":"e4","x":3.16,"f":5.87},{"c":"e4","x":3.2802,"f":5.89},
{"c":"e5","x":2.5731,"f":5.36},{"c":"e5","x":2.7499,"f":5.62},{"c":"e5","x":2.9267,"f":5.89},{"c":"e5","x":3.1034,"f":5.79},{"c":"e5","x":3.2802,"f":5.71},
{"c":"e6","x":2.5731,"f":5.36},{"c":"e6","x":2.658,"f":5.30},{"c":"e6","x":2.7499,"f":5.34},{"c":"e6","x":2.9267,"f":5.44},{"c":"e6","x":3.1034,"f":5.55},{"c":"e6","x":3.2802,"f":5.50},
{"c":"e7","x":2.5731,"f":5.23},{"c":"e7","x":2.7499,"f":5.28},{"c":"e7","x":2.9267,"f":5.35},{"c":"e7","x":3.1034,"f":5.48},{"c":"e7","x":3.2802,"f":5.43},
{"c":"e8","x":2.5731,"f":5.23},{"c":"e8","x":2.7499,"f":5.19},{"c":"e8","x":2.9267,"f":5.18},{"c":"e8","x":3.1034,"f":5.21},{"c":"e8","x":3.2802,"f":5.24},
{"c":"e9","x":2.5731,"f":4.80},{"c":"e9","x":2.7499,"f":5.00},{"c":"e9","x":2.9267,"f":5.07},{"c":"e9","x":3.1034,"f":5.14},{"c":"e9","x":3.2802,"f":5.24},
{"c":"e10","x":2.5731,"f":4.80},{"c":"e10","x":2.7499,"f":4.74},{"c":"e10","x":2.9267,"f":4.77},{"c":"e10","x":3.1034,"f":4.82},{"c":"e10","x":3.2802,"f":4.75},
{"c":"e11","x":2.5731,"f":4.66},{"c":"e11","x":2.7499,"f":4.68},{"c":"e11","x":2.9267,"f":4.67},{"c":"e11","x":3.1034,"f":4.67},{"c":"e11","x":3.2802,"f":4.75},
{"c":"e12","x":2.5731,"f":4.66},{"c":"e12","x":2.7499,"f":4.42},{"c":"e12","x":2.9267,"f":4.26},{"c":"e12","x":3.1034,"f":4.18},{"c":"e12","x":3.2802,"f":4.15},
{"c":"e13","x":2.5731,"f":4.52},{"c":"e13","x":2.7499,"f":4.54},{"c":"e13","x":2.9267,"f":4.43},{"c":"e13","x":3.1034,"f":4.36},{"c":"e13","x":3.2802,"f":4.38},
{"c":"e14","x":2.5731,"f":4.52},{"c":"e14","x":2.7499,"f":4.41},{"c":"e14","x":2.9267,"f":4.30},{"c":"e14","x":3.1034,"f":4.27},{"c":"e14","x":3.2802,"f":4.27},
{"c":"e15","x":2.5731,"f":4.00},{"c":"e15","x":2.7499,"f":4.01},{"c":"e15","x":2.9267,"f":3.97},{"c":"e15","x":3.1034,"f":3.90},{"c":"e15","x":3.2802,"f":3.80},
{"c":"e16","x":2.5731,"f":4.00},{"c":"e16","x":2.7499,"f":3.90},{"c":"e16","x":2.9267,"f":3.80},{"c":"e16","x":3.1034,"f":3.70},{"c":"e16","x":3.2802,"f":3.66},
{"c":"e17","x":2.5731,"f":3.81},{"c":"e17","x":2.7499,"f":3.81},{"c":"e17","x":2.9267,"f":3.66},{"c":"e17","x":3.1034,"f":3.58},{"c":"e17","x":3.2802,"f":3.62},
{"c":"e18","x":2.5731,"f":3.81},{"c":"e18","x":2.7499,"f":3.75},{"c":"e18","x":2.9267,"f":3.69},{"c":"e18","x":3.1034,"f":3.64},{"c":"e18","x":3.2802,"f":3.58},
{"c":"e19","x":2.5731,"f":3.43},{"c":"e19","x":2.7499,"f":3.47},{"c":"e19","x":2.9267,"f":3.52},{"c":"e19","x":3.1034,"f":3.53},{"c":"e19","x":3.2802,"f":3.54},
{"c":"e20","x":2.5731,"f":3.43},{"c":"e20","x":2.7499,"f":3.44},{"c":"e20","x":2.9267,"f":3.42},{"c":"e20","x":3.1034,"f":3.39},{"c":"e20","x":3.2802,"f":3.48},
{"c":"e21","x":2.5731,"f":2.99},{"c":"e21","x":2.7499,"f":3.04},{"c":"e21","x":2.9267,"f":3.15},{"c":"e21","x":3.068,"f":3.28},{"c":"e21","x":3.2802,"f":3.27},
{"c":"e22","x":2.5731,"f":2.99},{"c":"e22","x":2.7499,"f":3.05},{"c":"e22","x":2.9267,"f":3.06},{"c":"e22","x":3.1034,"f":3.06},{"c":"e22","x":3.2802,"f":3.04},
{"c":"e23","x":2.5731,"f":2.63},{"c":"e23","x":2.7499,"f":2.88},{"c":"e23","x":2.9267,"f":2.93},{"c":"e23","x":3.1034,"f":2.97},{"c":"e23","x":3.2802,"f":3.04},
{"c":"e24","x":2.5731,"f":2.63},{"c":"e24","x":2.7499,"f":2.54},{"c":"e24","x":2.9267,"f":2.65},{"c":"e24","x":3.1034,"f":2.78},{"c":"e24","x":3.2802,"f":2.83},
{"c":"e25","x":2.5731,"f":2.23},{"c":"e25","x":2.7499,"f":2.38},{"c":"e25","x":2.9267,"f":2.55},{"c":"e25","x":3.1034,"f":2.68},{"c":"e25","x":3.2802,"f":2.73},
{"c":"e26","x":2.5731,"f":2.23},{"c":"e26","x":2.7499,"f":2.25},{"c":"e26","x":2.9267,"f":2.38},{"c":"e26","x":3.1034,"f":2.60},{"c":"e26","x":3.2802,"f":2.63},
{"c":"e27","x":2.5731,"f":2.09},{"c":"e27","x":2.7499,"f":2.10},{"c":"e27","x":2.9267,"f":2.15},{"c":"e27","x":3.1034,"f":2.23},{"c":"e27","x":3.2802,"f":2.28},
{"c":"e28","x":2.5731,"f":2.09},{"c":"e28","x":2.7499,"f":2.03},{"c":"e28","x":2.9267,"f":1.90},{"c":"e28","x":3.1034,"f":1.74},{"c":"e28","x":3.2802,"f":1.61},
{"c":"e29","x":2.5731,"f":1.87},{"c":"e29","x":2.7499,"f":1.83},{"c":"e29","x":2.9267,"f":1.70},{"c":"e29","x":3.1034,"f":1.54},{"c":"e29","x":3.2802,"f":1.56},
{"c":"e30","x":2.5731,"f":1.87},{"c":"e30","x":2.7499,"f":1.71},{"c":"e30","x":2.9267,"f":1.47},{"c":"e30","x":3.1034,"f":1.26},{"c":"e30","x":3.2802,"f":1.13}
],
"R": [
{"c":"r1","x":0,"f":6.26},{"c":"r1","x":0.125,"f":6.31},{"c":"r1","x":0.25,"f":6.34},{"c":"r1","x":0.375,"f":6.36},{"c":"r1","x":0.5,"f":6.37},
{"c":"r2","x":0,"f":6.26},{"c":"r2","x":0.125,"f":6.28},{"c":"r2","x":0.25,"f":6.23},{"c":"r2","x":0.375,"f":6.14},{"c":"r2","x":0.5,"f":6.04},
{"c":"r3","x":0,"f":6.26},{"c":"r3","x":0.125,"f":6.17},{"c":"r3","x":0.25,"f":6.09},{"c":"r3","x":0.375,"f":6.03},{"c":"r3","x":0.5,"f":5.98},
{"c":"r4","x":0,"f":6.25},{"c":"r4","x":0.125,"f":6.14},{"c":"r4","x":0.25,"f":6.05},{"c":"r4","x":0.375,"f":5.97},{"c":"r4","x":0.5,"f":5.98},
{"c":"r5","x":0,"f":5.36},{"c":"r5","x":0.125,"f":5.50},{"c":"r5","x":0.25,"f":5.64},{"c":"r5","x":0.375,"f":5.76},{"c":"r5","x":0.5,"f":5.85},
{"c":"r6","x":0,"f":5.36},{"c":"r6","x":0.125,"f":5.31},{"c":"r6","x":0.25,"f":5.42},{"c":"r6","x":0.375,"f":5.62},{"c":"r6","x":0.5,"f":5.79},
{"c":"r7","x":0,"f":5.23},{"c":"r7","x":0.125,"f":5.32},{"c":"r7","x":0.25,"f":5.34},{"c":"r7","x":0.375,"f":5.34},{"c":"r7","x":0.5,"f":5.34},
{"c":"r8","x":0,"f":5.23},{"c":"r8","x":0.125,"f":5.21},{"c":"r8","x":0.25,"f":5.34},{"c":"r8","x":0.375,"f":5.44},{"c":"r8","x":0.5,"f":5.48},
{"c":"r9","x":0,"f":4.80},{"c":"r9","x":0.125,"f":4.89},{"c":"r9","x":0.25,"f":4.84},{"c":"r9","x":0.375,"f":4.76},{"c":"r9","x":0.5,"f":4.71},
{"c":"r10","x":0,"f":4.80},{"c":"r10","x":0.125,"f":4.80},{"c":"r10","x":0.25,"f":4.86},{"c":"r10","x":0.375,"f":4.93},{"c":"r10","x":0.5,"f":4.98},
{"c":"r11","x":0,"f":4.66},{"c":"r11","x":0.125,"f":4.61},{"c":"r11","x":0.25,"f":4.56},{"c":"r11","x":0.375,"f":4.52},{"c":"r11","x":0.5,"f":4.48},
{"c":"r12","x":0,"f":4.66},{"c":"r12","x":0.125,"f":4.60},{"c":"r12","x":0.25,"f":4.50},{"c":"r12","x":0.375,"f":4.45},{"c":"r12","x":0.5,"f":4.44},
{"c":"r13","x":0,"f":4.52},{"c":"r13","x":0.125,"f":4.50},{"c":"r13","x":0.25,"f":4.35},{"c":"r13","x":0.375,"f":4.20},{"c":"r13","x":0.5,"f":4.07},
{"c":"r14","x":0,"f":4.52},{"c":"r14","x":0.125,"f":4.45},{"c":"r14","x":0.25,"f":4.32},{"c":"r14","x":0.375,"f":4.22},{"c":"r14","x":0.5,"f":4.17},
{"c":"r15","x":0,"f":4.00},{"c":"r15","x":0.125,"f":3.96},{"c":"r15","x":0.25,"f":3.94},{"c":"r15","x":0.375,"f":3.93},{"c":"r15","x":0.5,"f":4.00},
{"c":"r16","x":0,"f":4.00},{"c":"r16","x":0.125,"f":3.95},{"c":"r16","x":0.25,"f":3.91},{"c":"r16","x":0.375,"f":3.90},{"c":"r16","x":0.5,"f":3.90},
{"c":"r17","x":0,"f":3.81},{"c":"r17","x":0.125,"f":3.81},{"c":"r17","x":0.25,"f":3.80},{"c":"r17","x":0.375,"f":3.78},{"c":"r17","x":0.5,"f":3.76},
{"c":"r18","x":0,"f":3.81},{"c":"r18","x":0.125,"f":3.77},{"c":"r18","x":0.25,"f":3.73},{"c":"r18","x":0.375,"f":3.73},{"c":"r18","x":0.5,"f":3.74},
{"c":"r19","x":0,"f":3.43},{"c":"r19","x":0.125,"f":3.45},{"c":"r19","x":0.25,"f":3.46},{"c":"r19","x":0.375,"f":3.44},{"c":"r19","x":0.5,"f":3.42},
{"c":"r20","x":0,"f":3.43},{"c":"r20","x":0.125,"f":3.44},{"c":"r20","x":0.25,"f":3.45},{"c":"r20","x":0.375,"f":3.44},{"c":"r20","x":0.5,"f":3.42},
{"c":"r21","x":0,"f":2.99},{"c":"r21","x":0.125,"f":3.02},{"c":"r21","x":0.25,"f":3.12},{"c":"r21","x":0.375,"f":3.25},{"c":"r21","x":0.5,"f":3.36},
{"c":"r22","x":0,"f":2.99},{"c":"r22","x":0.125,"f":2.99},{"c":"r22","x":0.25,"f":3.00},{"c":"r22","x":0.375,"f":3.01},{"c":"r22","x":0.5,"f":3.02},
{"c":"r23","x":0,"f":2.63},{"c":"r23","x":0.125,"f":2.83},{"c":"r23","x":0.25,"f":2.93},{"c":"r23","x":0.375,"f":2.96},{"c":"r23","x":0.5,"f":2.96},
{"c":"r24","x":0,"f":2.63},{"c":"r24","x":0.125,"f":2.53},{"c":"r24","x":0.25,"f":2.58},{"c":"r24","x":0.375,"f":2.65},{"c":"r24","x":0.5,"f":2.68},
{"c":"r25","x":0,"f":2.23},{"c":"r25","x":0.125,"f":2.38},{"c":"r25","x":0.25,"f":2.52},{"c":"r25","x":0.375,"f":2.62},{"c":"r25","x":0.5,"f":2.66},
{"c":"r26","x":0,"f":2.23},{"c":"r26","x":0.125,"f":2.23},{"c":"r26","x":0.25,"f":2.24},{"c":"r26","x":0.375,"f":2.26},{"c":"r26","x":0.5,"f":2.27},
{"c":"r27","x":0,"f":2.09},{"c":"r27","x":0.125,"f":2.12},{"c":"r27","x":0.25,"f":2.18},{"c":"r27","x":0.375,"f":2.24},{"c":"r27","x":0.5,"f":2.27},
{"c":"r28","x":0,"f":2.08},{"c":"r28","x":0.125,"f":2.04},{"c":"r28","x":0.25,"f":1.98},{"c":"r28","x":0.375,"f":1.92},{"c":"r28","x":0.5,"f":1.87},
{"c":"r29","x":0,"f":1.87},{"c":"r29","x":0.125,"f":1.81},{"c":"r29","x":0.25,"f":1.72},{"c":"r29","x":0.375,"f":1.65},{"c":"r29","x":0.5,"f":1.60},
{"c":"r30","x":0,"f":1.87},{"c":"r30","x":0.125,"f":1.78},{"c":"r30","x":0.25,"f":1.64},{"c":"r30","x":0.375,"f":1.51},{"c":"r30","x":0.5,"f":1.43}
]
},
"hconcat": [
{
"width": 1680, "height": 1428,
"layer": [
{
"data": {"name": "L"},
"mark": {"type": "line", "color": "#ff0000", "strokeWidth": 3.8, "interpolate": "monotone", "clip": true},
"encoding": {
"x": {"field": "x", "type": "quantitative", "scale": {"domain": [0, 3.2802], "nice": false, "zero": false},
  "axis": {"orient": "bottom", "values": [0, 0.5, 1, 1.7071, 2.5731, 3.2802], "labelExpr": "datum.value < 0.25 ? 'Γ' : datum.value < 0.75 ? 'X' : datum.value < 1.3 ? 'M' : datum.value < 2 ? 'Γ' : datum.value < 3 ? 'R' : 'X'", "title": null, "grid": false, "domain": false, "tickSize": -17, "tickWidth": 3, "tickColor": "black", "labelFontSize": 46, "labelColor": "black", "labelPadding": 38, "labelFlush": false, "labelOverlap": false, "labelBound": false, "labelBaseline": "top"}},
"y": {"field": "f", "type": "quantitative", "scale": {"domain": [-0.348, 6.727], "nice": false, "zero": false},
  "axis": {"orient": "left", "values": [0, 1, 2, 3, 4, 5, 6], "title": "Frequency", "titleFontSize": 51, "titleFontWeight": "normal", "titleColor": "black", "titleAngle": -90, "titleBaseline": "alphabetic", "titleAlign": "center", "titleX": -91, "titleY": 722, "grid": false, "domain": false, "tickSize": -17, "tickWidth": 3, "tickColor": "black", "labelFontSize": 46, "labelColor": "black", "labelPadding": 39, "labelBaseline": "middle", "labelFlush": false, "labelOverlap": false}},
"detail": {"field": "c"}
}
},
{
"data": {"values": [{"z": 0}]},
"mark": {"type": "rule", "color": "#0000ff", "strokeWidth": 2, "strokeDash": [2, 4]},
"encoding": {
"y": {"field": "z", "type": "quantitative", "axis": {"orient": "right", "values": [0, 1, 2, 3, 4, 5, 6], "labels": false, "title": null, "grid": false, "domain": false, "tickSize": -17, "tickWidth": 3, "tickColor": "black"}}
}
},
{
"data": {"values": [{"x": 1, "f": 3}]},
"mark": {"type": "point", "opacity": 0},
"encoding": {
"x": {"field": "x", "type": "quantitative", "axis": {"orient": "top", "values": [0.5, 1, 1.7071, 2.5731], "labels": false, "title": null, "grid": false, "domain": false, "tickSize": -17, "tickWidth": 3, "tickColor": "black"}},
"y": {"field": "f", "type": "quantitative", "axis": null}
}
}
],
"resolve": {"axis": {"x": "independent", "y": "independent"}}
},
{
"width": 256, "height": 1428,
"layer": [
{
"data": {"name": "R"},
"mark": {"type": "line", "color": "#ff0000", "strokeWidth": 3.8, "interpolate": "monotone", "clip": true},
"encoding": {
"x": {"field": "x", "type": "quantitative", "scale": {"domain": [0, 0.5], "nice": false, "zero": false},
  "axis": {"orient": "bottom", "values": [0, 0.5], "labelExpr": "datum.value < 0.25 ? 'R' : 'M'", "title": null, "grid": false, "domain": false, "tickSize": -17, "tickWidth": 3, "tickColor": "black", "labelFontSize": 46, "labelColor": "black", "labelPadding": 38, "labelFlush": false, "labelOverlap": false, "labelBound": false, "labelBaseline": "top"}},
"y": {"field": "f", "type": "quantitative", "scale": {"domain": [-0.348, 6.727], "nice": false, "zero": false},
  "axis": {"orient": "left", "values": [0, 1, 2, 3, 4, 5, 6], "labels": false, "title": null, "grid": false, "domain": false, "tickSize": -17, "tickWidth": 3, "tickColor": "black"}},
"detail": {"field": "c"}
}
},
{
"data": {"values": [{"z": 0}]},
"mark": {"type": "rule", "color": "#0000ff", "strokeWidth": 2, "strokeDash": [2, 4]},
"encoding": {
"y": {"field": "z", "type": "quantitative", "axis": {"orient": "right", "values": [0, 1, 2, 3, 4, 5, 6], "labels": false, "title": null, "grid": false, "domain": false, "tickSize": -17, "tickWidth": 3, "tickColor": "black"}}
}
}
],
"resolve": {"axis": {"y": "independent"}}
}
]
}
